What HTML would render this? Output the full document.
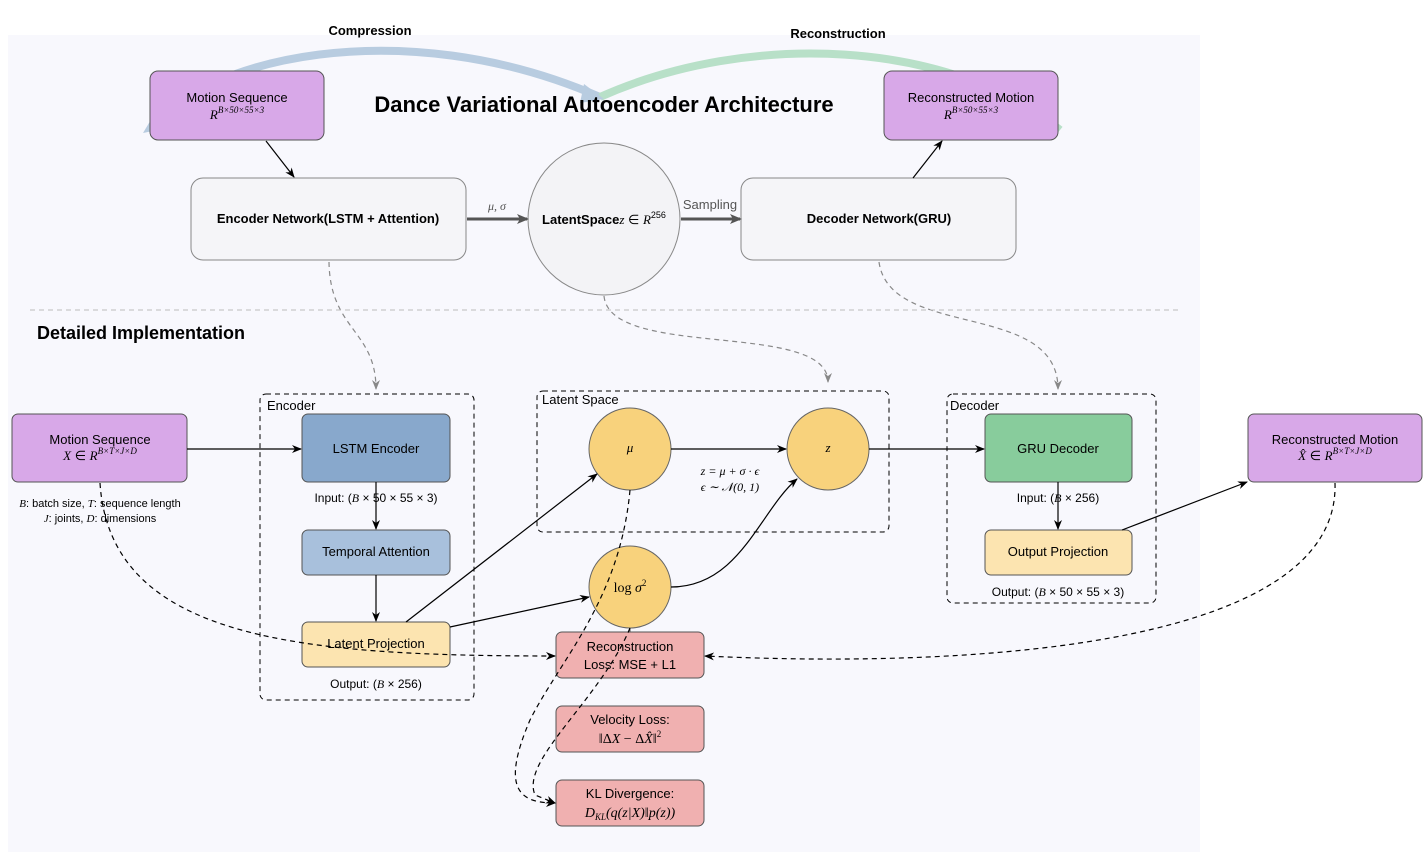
<!DOCTYPE html>
<html><head><meta charset="utf-8"><style>
body{margin:0;background:#fff}
svg{display:block;font-family:"Liberation Sans",sans-serif}
.b{font-weight:bold}
.m{font-family:"Liberation Serif",serif;font-style:italic}
</style></head><body>
<svg width="1428" height="852" viewBox="0 0 1428 852" xmlns="http://www.w3.org/2000/svg">
<defs>
<marker id="a" markerWidth="10" markerHeight="10" refX="9" refY="5" orient="auto" markerUnits="userSpaceOnUse"><path d="M0,1 L10,5 L0,9 L3,5z" fill="#000"/></marker>
<marker id="g" markerWidth="10" markerHeight="10" refX="9" refY="5" orient="auto" markerUnits="userSpaceOnUse"><path d="M0,1 L10,5 L0,9 L3,5z" fill="#888"/></marker>
<marker id="t" markerWidth="12" markerHeight="12" refX="10" refY="6" orient="auto" markerUnits="userSpaceOnUse"><path d="M0,1 L12,6 L0,11 L3,6z" fill="#555"/></marker>
</defs>
<rect x="8" y="35" width="1192" height="817" fill="#f8f8fd"/>
<!-- arcs -->
<path d="M150,130 C200,60 400,10 600,97" fill="none" stroke="#b8cce0" stroke-width="8"/>
<path d="M600,97 C750,30 950,40 1060,130" fill="none" stroke="#b8e0c8" stroke-width="8"/>
<path d="M584,84 L604,99 L580,103z" fill="#b8cce0"/>
<path d="M143,133 L152,118 L158,130z" fill="#b8cce0"/>
<text x="370" y="35" font-size="13" class="b" text-anchor="middle">Compression</text>
<text x="838" y="38" font-size="13" class="b" text-anchor="middle">Reconstruction</text>
<text x="604" y="112" font-size="22" class="b" text-anchor="middle">Dance Variational Autoencoder Architecture</text>
<!-- top boxes -->
<rect x="150" y="71" width="174" height="69" rx="8" fill="#d8a8e8" stroke="#555"/>
<text x="237" y="102" font-size="13" text-anchor="middle">Motion Sequence</text>
<text x="237" y="119" font-size="13" text-anchor="middle" class="m">R<tspan font-size="9" dy="-6">B×50×55×3</tspan></text>
<rect x="884" y="71" width="174" height="69" rx="8" fill="#d8a8e8" stroke="#555"/>
<text x="971" y="102" font-size="13" text-anchor="middle">Reconstructed Motion</text>
<text x="971" y="119" font-size="13" text-anchor="middle" class="m">R<tspan font-size="9" dy="-6">B×50×55×3</tspan></text>
<rect x="191" y="178" width="275" height="82" rx="12" fill="#f5f5f8" stroke="#888"/>
<text x="328" y="223" font-size="13" class="b" text-anchor="middle">Encoder Network(LSTM + Attention)</text>
<rect x="741" y="178" width="275" height="82" rx="12" fill="#f5f5f8" stroke="#888"/>
<text x="879" y="223" font-size="13" class="b" text-anchor="middle">Decoder Network(GRU)</text>
<circle cx="604" cy="219" r="76" fill="#f3f3f6" stroke="#888"/>
<text x="604" y="224" font-size="13" text-anchor="middle"><tspan class="b">LatentSpace</tspan><tspan class="m">z</tspan> ∈ <tspan class="m">R</tspan><tspan font-size="9" dy="-6">256</tspan></text>
<line x1="266" y1="141" x2="294" y2="177" stroke="#000" stroke-width="1.2" marker-end="url(#a)"/>
<line x1="913" y1="178" x2="942" y2="141" stroke="#000" stroke-width="1.2" marker-end="url(#a)"/>
<line x1="467" y1="219" x2="527" y2="219" stroke="#555" stroke-width="3" marker-end="url(#t)"/>
<text x="497" y="210" font-size="12" fill="#555" text-anchor="middle" class="m">μ, σ</text>
<line x1="681" y1="219" x2="740" y2="219" stroke="#555" stroke-width="3" marker-end="url(#t)"/>
<text x="710" y="209" font-size="13" fill="#555" text-anchor="middle">Sampling</text>
<!-- gray dashed -->
<g fill="none" stroke="#888" stroke-width="1.2" stroke-dasharray="5,4">
<path d="M329,262 C330,330 376,330 376,389" marker-end="url(#g)"/>
<path d="M604,296 C610,360 828,320 828,382" marker-end="url(#g)"/>
<path d="M879,262 C890,340 1058,300 1058,389" marker-end="url(#g)"/>
</g>
<line x1="30" y1="310" x2="1180" y2="310" stroke="#bbb" stroke-dasharray="5,4"/>
<text x="37" y="339" font-size="18" class="b">Detailed Implementation</text>
<!-- dashed containers -->
<g fill="none" stroke="#000" stroke-dasharray="5,4">
<rect x="260" y="394" width="214" height="306" rx="6"/>
<rect x="537" y="391" width="352" height="141" rx="6"/>
<rect x="947" y="394" width="209" height="209" rx="6"/>
</g>
<text x="267" y="410" font-size="13">Encoder</text>
<text x="542" y="404" font-size="13">Latent Space</text>
<text x="950" y="410" font-size="13">Decoder</text>
<!-- boxes -->
<rect x="12" y="414" width="175" height="68" rx="6" fill="#d8a8e8" stroke="#555"/>
<text x="100" y="444" font-size="13" text-anchor="middle">Motion Sequence</text>
<text x="100" y="460" font-size="13" text-anchor="middle"><tspan class="m">X</tspan> ∈ <tspan class="m">R</tspan><tspan font-size="9" dy="-6" class="m">B×T×J×D</tspan></text>
<text x="100" y="507" font-size="11" text-anchor="middle"><tspan class="m">B</tspan>: batch size, <tspan class="m">T</tspan>: sequence length</text>
<text x="100" y="522" font-size="11" text-anchor="middle"><tspan class="m">J</tspan>: joints, <tspan class="m">D</tspan>: dimensions</text>
<rect x="1248" y="414" width="174" height="68" rx="6" fill="#d8a8e8" stroke="#555"/>
<text x="1335" y="444" font-size="13" text-anchor="middle">Reconstructed Motion</text>
<text x="1335" y="460" font-size="13" text-anchor="middle"><tspan class="m">X̂</tspan> ∈ <tspan class="m">R</tspan><tspan font-size="9" dy="-6" class="m">B×T×J×D</tspan></text>
<rect x="302" y="414" width="148" height="68" rx="6" fill="#88a8cc" stroke="#555"/>
<text x="376" y="453" font-size="13" text-anchor="middle">LSTM Encoder</text>
<text x="376" y="502" font-size="12" text-anchor="middle">Input: (<tspan class="m">B</tspan> × 50 × 55 × 3)</text>
<rect x="302" y="530" width="148" height="45" rx="6" fill="#a8c0dc" stroke="#555"/>
<text x="376" y="556" font-size="13" text-anchor="middle">Temporal Attention</text>
<rect x="302" y="622" width="148" height="45" rx="6" fill="#fce4b0" stroke="#555"/>
<text x="376" y="648" font-size="13" text-anchor="middle">Latent Projection</text>
<text x="376" y="688" font-size="12" text-anchor="middle">Output: (<tspan class="m">B</tspan> × 256)</text>
<rect x="985" y="414" width="147" height="68" rx="6" fill="#88cc9c" stroke="#555"/>
<text x="1058" y="453" font-size="13" text-anchor="middle">GRU Decoder</text>
<text x="1058" y="502" font-size="12" text-anchor="middle">Input: (<tspan class="m">B</tspan> × 256)</text>
<rect x="985" y="530" width="147" height="45" rx="6" fill="#fce4b0" stroke="#555"/>
<text x="1058" y="556" font-size="13" text-anchor="middle">Output Projection</text>
<text x="1058" y="596" font-size="12" text-anchor="middle">Output: (<tspan class="m">B</tspan> × 50 × 55 × 3)</text>
<circle cx="630" cy="449" r="41" fill="#f8d27c" stroke="#666"/>
<text x="630" y="452" font-size="13" text-anchor="middle" class="m">μ</text>
<circle cx="828" cy="449" r="41" fill="#f8d27c" stroke="#666"/>
<text x="828" y="452" font-size="13" text-anchor="middle" class="m">z</text>
<circle cx="630" cy="587" r="41" fill="#f8d27c" stroke="#666"/>
<text x="630" y="592" font-size="14" text-anchor="middle" font-family="Liberation Serif">log <tspan class="m">σ</tspan><tspan font-size="9" dy="-6">2</tspan></text>
<text x="730" y="475" font-size="12" text-anchor="middle" class="m">z = μ + σ · ϵ</text>
<text x="730" y="491" font-size="12" text-anchor="middle" class="m">ϵ ∼ 𝒩(0, 1)</text>
<line x1="630" y1="628" x2="630" y2="634" stroke="#555"/>
<g fill="#f0b0b0" stroke="#555"><rect x="556" y="632" width="148" height="46" rx="6"/><rect x="556" y="706" width="148" height="46" rx="6"/><rect x="556" y="780" width="148" height="46" rx="6"/></g>
<text x="630" y="651" font-size="13" text-anchor="middle">Reconstruction</text>
<text x="630" y="669" font-size="13" text-anchor="middle">Loss: MSE + L1</text>
<text x="630" y="724" font-size="13" text-anchor="middle">Velocity Loss:</text>
<text x="630" y="743" font-size="14" text-anchor="middle" font-family="Liberation Serif">‖Δ<tspan class="m">X</tspan> − Δ<tspan class="m">X̂</tspan>‖<tspan font-size="9" dy="-6">2</tspan></text>
<text x="630" y="798" font-size="13" text-anchor="middle">KL Divergence:</text>
<text x="630" y="817" font-size="14" text-anchor="middle" class="m">D<tspan font-size="9" dy="3">KL</tspan><tspan dy="-3">(q(z|X)‖p(z))</tspan></text>
<!-- solid connectors -->
<g fill="none" stroke="#000" stroke-width="1.2" marker-end="url(#a)">
<line x1="187" y1="449" x2="301" y2="449"/>
<line x1="376" y1="482" x2="376" y2="529"/>
<line x1="376" y1="575" x2="376" y2="621"/>
<line x1="406" y1="622" x2="597" y2="474"/>
<line x1="450" y1="627" x2="589" y2="597"/>
<line x1="671" y1="449" x2="786" y2="449"/>
<path d="M671,587 C740,587 760,510 797,479"/>
<line x1="869" y1="449" x2="984" y2="449"/>
<line x1="1058" y1="482" x2="1058" y2="529"/>
<line x1="1122" y1="530" x2="1247" y2="482"/>
</g>
<!-- black dashed -->
<g fill="none" stroke="#000" stroke-width="1.2" stroke-dasharray="5,4" marker-end="url(#a)">
<path d="M100,483 C110,640 300,656 555,656"/>
<path d="M1335,483 C1340,640 1000,670 705,656"/>
<path d="M630,490 C620,600 560,660 530,720 C500,790 520,803 555,803"/>
<path d="M630,628 C600,700 520,760 535,795 L555,803"/>
</g>
</svg>
</body></html>
